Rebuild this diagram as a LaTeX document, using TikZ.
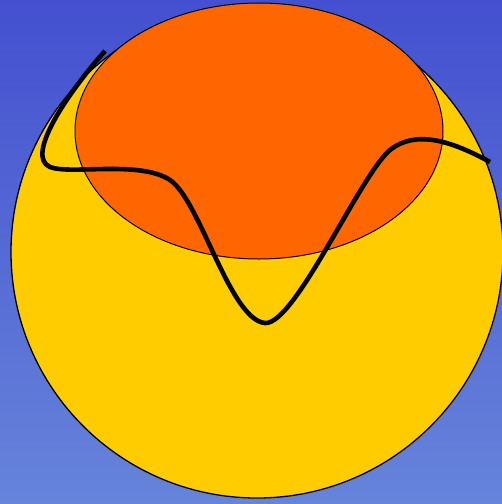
\documentclass[tikz,border=0pt]{standalone}
\begin{document}
\begin{tikzpicture}[x=1pt,y=-1pt,
  bgfill/.style={top color=bgtop,bottom color=bgbot,draw=none},
  sunfill/.style={fill=sunyellow,draw=black,line width=1.3pt},
  capfill/.style={fill=caporange,draw=black,line width=1pt},
  wave/.style={draw=black,line width=4.6pt,line cap=butt}]
\definecolor{bgtop}{RGB}{68,80,208}
\definecolor{bgbot}{RGB}{102,132,218}
\definecolor{sunyellow}{RGB}{255,204,0}
\definecolor{caporange}{RGB}{255,102,0}
\useasboundingbox (0,0) rectangle (502,504);
\fill[bgfill] (0,0) rectangle (502,504);
\begin{scope}
\clip (0,0) rectangle (502,504);
\draw[sunfill] (257,252) circle[radius=246];
\draw[capfill] (259,131) ellipse[x radius=184,y radius=128];
\coordinate (s) at (105,51);
\coordinate (a) at (50,167);
\coordinate (b) at (170,180);
\coordinate (m) at (265,323);
\coordinate (p) at (390,150);
\coordinate (e) at (490,162);
\draw[wave] (s) .. controls (70,90) and (24,156) .. (a)
  .. controls (70,175) and (140,160) .. (b)
  .. controls (200,200) and (230,320) .. (m)
  .. controls (295,325) and (360,175) .. (p)
  .. controls (415,130) and (450,140) .. (e);
\end{scope}
\end{tikzpicture}
\end{document}
